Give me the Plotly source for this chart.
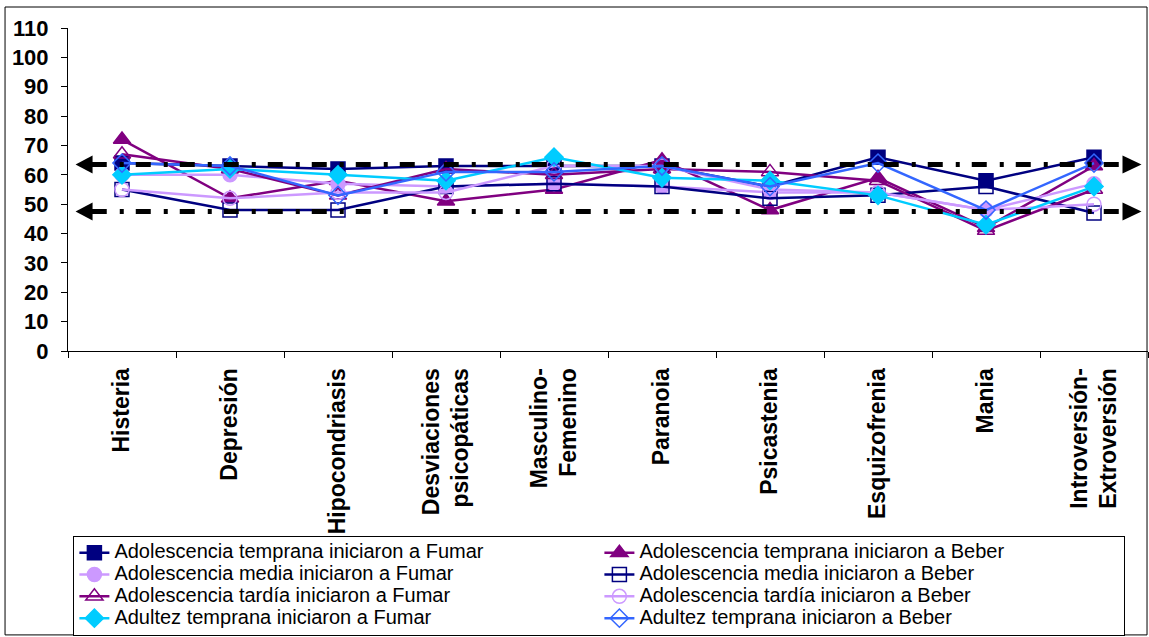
import plotly.graph_objects as go

# MMPI scales (x categories)
categories = [
    "Histeria", "Depresión", "Hipocondriasis", "Desviaciones<br>psicopáticas",
    "Masculino-<br>Femenino", "Paranoia", "Psicastenia", "Esquizofrenia",
    "Mania", "Introversión-<br>Extroversión",
]

# T-scores per group
temprana_fumar = [64, 63, 62, 63, 63, 63, 56, 66, 58, 66]
temprana_beber = [72, 52, 58, 51, 55, 65, 48, 59, 42, 63]
media_fumar = [60, 60, 57, 56, 57, 56, 54, 54, 48, 57]
media_beber = [55, 48, 48, 56, 57, 56, 52, 53, 56, 47]
tardia_fumar = [67, 62, 53, 62, 60, 62, 61, 58, 41, 55]
tardia_beber = [55, 52, 54, 54, 63, 63, 55, 54, 48, 50]
adultez_fumar = [60, 62, 60, 58, 66, 59, 58, 53, 43, 56]
adultez_beber = [64, 63, 53, 61, 61, 63, 56, 64, 48, 64]

# Reference band limits
ref_levels = [63.5, 47.5]

y_ticks = list(range(0, 111, 10))

NAVY = "#000080"
PURPLE = "#800080"
LILAC = "#CC99FF"
CYAN = "#00CCFF"
BLUE = "#3366FF"
FONT = "Liberation Sans, Arial, sans-serif"

series = [
    ("Adolescencia temprana iniciaron a Fumar", temprana_fumar, NAVY, "square", 14),
    ("Adolescencia temprana iniciaron a Beber", temprana_beber, PURPLE, "triangle-up", 15),
    ("Adolescencia media iniciaron a Fumar", media_fumar, LILAC, "circle", 14),
    ("Adolescencia media iniciaron a Beber", media_beber, NAVY, "square-open", 14),
    ("Adolescencia tardía iniciaron a Fumar", tardia_fumar, PURPLE, "triangle-up-open", 15),
    ("Adolescencia tardía iniciaron a Beber", tardia_beber, LILAC, "circle-open", 14),
    ("Adultez temprana iniciaron a Fumar", adultez_fumar, CYAN, "diamond", 14),
    ("Adultez temprana iniciaron a Beber", adultez_beber, BLUE, "diamond-open", 14),
]

fig = go.Figure()
for name, vals, color, symbol, msize in series:
    fig.add_trace(go.Scatter(
        x=categories, y=vals, mode="lines+markers",
        name='<span style="font-size:20px">' + name + "</span>",
        line=dict(color=color, width=2.5),
        marker=dict(symbol=symbol, size=msize, color=color,
                    line=dict(color=color, width=1.5)),
    ))

shapes = []
for level in ref_levels:
    shapes.append(dict(
        type="line", xref="paper", yref="y", x0=0.022, x1=0.977, y0=level, y1=level,
        line=dict(color="black", width=5, dash="15px,13px,4px,12px"),
    ))
    shapes.append(dict(
        type="path", xref="paper", yref="y", xsizemode="pixel", ysizemode="pixel",
        xanchor=0.007, yanchor=level, path="M0,0 L17,9 L17,-9 Z",
        fillcolor="black", line=dict(width=0),
    ))
    shapes.append(dict(
        type="path", xref="paper", yref="y", xsizemode="pixel", ysizemode="pixel",
        xanchor=0.994, yanchor=level, path="M0,0 L-19,9 L-19,-9 Z",
        fillcolor="black", line=dict(width=0),
    ))

# chart frame
shapes.append(dict(
    type="rect", xref="paper", yref="paper", x0=-0.0583, x1=0.9991, y0=-0.879, y1=1.065,
    line=dict(color="black", width=1), fillcolor="rgba(0,0,0,0)", layer="below",
))

fig.update_layout(
    width=1149, height=637,
    margin=dict(l=68, r=1, t=28, b=286),
    paper_bgcolor="white", plot_bgcolor="white",
    font=dict(family=FONT, color="black"),
    shapes=shapes,
    showlegend=True,
    legend=dict(
        orientation="h", x=0.005, xanchor="left",
        yref="container", y=0.159, yanchor="top",
        font=dict(family=FONT, size=14.5, color="black"),
        bordercolor="black", borderwidth=1, bgcolor="white",
        entrywidth=480, entrywidthmode="pixels",
        tracegroupgap=0, itemwidth=30,
    ),
    xaxis=dict(
        type="category", range=[-0.5, 9.5], showline=True, linecolor="black", linewidth=1,
        ticks="outside", tickson="boundaries", ticklen=6, tickcolor="black",
        tickangle=-90, ticklabelstandoff=7,
        tickfont=dict(family=FONT, size=23, weight="bold", color="black"),
        showgrid=False, zeroline=False,
    ),
    yaxis=dict(
        range=[0, 110], tickvals=y_ticks, showline=True, linecolor="black", linewidth=1,
        ticks="outside", ticklen=6, tickcolor="black", ticklabelstandoff=8,
        tickfont=dict(family=FONT, size=22, weight="bold", color="black"),
        showgrid=False, zeroline=False,
    ),
)

fig.write_html("out.html")
